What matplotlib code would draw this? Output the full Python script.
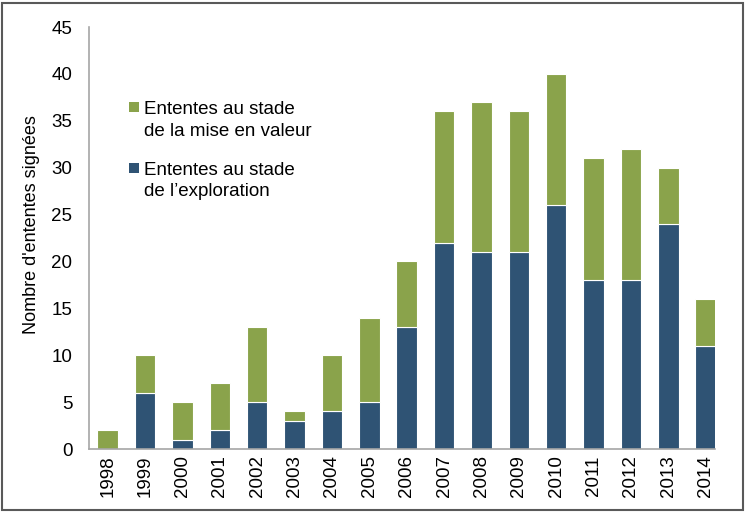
import matplotlib
matplotlib.use("Agg")
import matplotlib.pyplot as plt
from matplotlib.patches import Rectangle

plt.rcParams['font.family'] = ['Liberation Sans', 'DejaVu Sans']

years = ['1998', '1999', '2000', '2001', '2002', '2003', '2004', '2005', '2006',
         '2007', '2008', '2009', '2010', '2011', '2012', '2013', '2014']
exploration = [0, 6, 1, 2, 5, 3, 4, 5, 13, 22, 21, 21, 26, 18, 18, 24, 11]
mise_en_valeur = [2, 4, 4, 5, 8, 1, 6, 9, 7, 14, 16, 15, 14, 13, 14, 6, 5]

label_mise = ["Ententes au stade", "de la mise en valeur"]
label_explo = ["Ententes au stade", "de l\u2019exploration"]

blue = '#2F5374'
green = '#8AA34B'

W, H = 745, 512
fig = plt.figure(figsize=(W / 100, H / 100), dpi=100)
ax = fig.add_axes([89 / W, 1 - 449 / H, (715 - 89) / W, (449 - 27) / H])

x = list(range(len(years)))
ax.bar(x, exploration, width=0.55, color=blue, edgecolor='white', linewidth=0.8)
ax.bar(x, mise_en_valeur, width=0.55, bottom=exploration, color=green,
       edgecolor='white', linewidth=0.8)

ax.set_xlim(-0.5, len(years) - 0.75)
ax.set_ylim(0, 45)
ax.set_yticks(range(0, 46, 5))
ax.set_xticks(x)
ax.set_xticklabels(years, rotation=90, fontsize=13.5)
ax.tick_params(axis='y', labelsize=13.5, length=0, pad=12)
ax.tick_params(axis='x', length=0, pad=4.5)
ax.set_ylabel("Nombre d'ententes signées", fontsize=13)
ax.yaxis.set_label_coords(-0.079, 0.531)

for side in ('top', 'right'):
    ax.spines[side].set_visible(False)
for side in ('left', 'bottom'):
    ax.spines[side].set_color('#A6A6A6')
    ax.spines[side].set_linewidth(1.2)


def px(xp, yp):
    return xp / W, 1 - yp / H


# legend: square key aligned with the first line of each two-line label
for color, lines, top in ((green, label_mise, 102), (blue, label_explo, 162.5)):
    x0, y0 = px(128.5, top + 10)
    fig.patches.append(Rectangle((x0, y0), 10 / W, 10 / H, transform=fig.transFigure,
                                 facecolor=color, edgecolor='none'))
    for i, line in enumerate(lines):
        tx, ty = px(144, top + 12.5 + i * 21.5)
        fig.text(tx, ty, line, fontsize=13.5, va='baseline', ha='left')

fig.patches.append(Rectangle((0.003, 0.004), 0.994, 0.99, transform=fig.transFigure,
                             fill=False, edgecolor='#595959', linewidth=1.5))

fig.savefig('out.png', dpi=100)
